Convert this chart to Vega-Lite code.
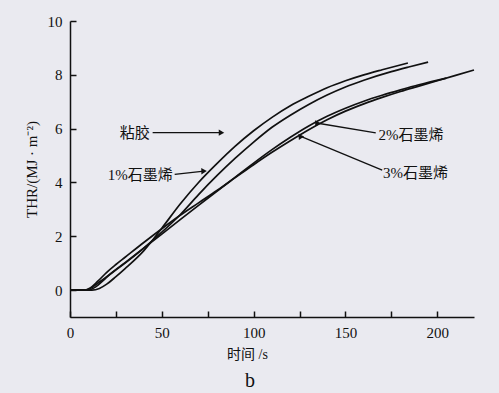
{
  "$schema": "https://vega.github.io/schema/vega-lite/v6.json",
  "width": 404,
  "height": 296,
  "autosize": "none",
  "padding": {"left": 70, "top": 21, "right": 25, "bottom": 76},
  "background": "#eaeaf0",
  "config": {"view": {"stroke": null}, "font": "Liberation Serif", "axis": {"ticks": true}},
  "title": {"text": "b", "orient": "bottom", "font": "Liberation Serif", "fontSize": 20, "fontWeight": "normal", "dx": -22, "offset": 10, "color": "#111"},
  "datasets": {
    "curves": [
      {"s": "粘胶", "t": 0, "v": 0}, {"s": "粘胶", "t": 12, "v": 0}, {"s": "粘胶", "t": 16, "v": 0.06}, {"s": "粘胶", "t": 20, "v": 0.22}, {"s": "粘胶", "t": 25, "v": 0.5}, {"s": "粘胶", "t": 30, "v": 0.8}, {"s": "粘胶", "t": 40, "v": 1.45}, {"s": "粘胶", "t": 50, "v": 2.3}, {"s": "粘胶", "t": 60, "v": 3.2}, {"s": "粘胶", "t": 70, "v": 4.0}, {"s": "粘胶", "t": 80, "v": 4.7}, {"s": "粘胶", "t": 90, "v": 5.35}, {"s": "粘胶", "t": 100, "v": 5.92}, {"s": "粘胶", "t": 110, "v": 6.42}, {"s": "粘胶", "t": 120, "v": 6.85}, {"s": "粘胶", "t": 130, "v": 7.2}, {"s": "粘胶", "t": 140, "v": 7.52}, {"s": "粘胶", "t": 150, "v": 7.78}, {"s": "粘胶", "t": 160, "v": 8.0}, {"s": "粘胶", "t": 170, "v": 8.19}, {"s": "粘胶", "t": 184, "v": 8.44},
      {"s": "1%", "t": 0, "v": 0}, {"s": "1%", "t": 8, "v": 0}, {"s": "1%", "t": 12, "v": 0.1}, {"s": "1%", "t": 16, "v": 0.3}, {"s": "1%", "t": 20, "v": 0.5}, {"s": "1%", "t": 30, "v": 1.0}, {"s": "1%", "t": 40, "v": 1.55}, {"s": "1%", "t": 50, "v": 2.15}, {"s": "1%", "t": 60, "v": 2.8}, {"s": "1%", "t": 70, "v": 3.55}, {"s": "1%", "t": 80, "v": 4.25}, {"s": "1%", "t": 90, "v": 4.9}, {"s": "1%", "t": 100, "v": 5.5}, {"s": "1%", "t": 110, "v": 6.05}, {"s": "1%", "t": 120, "v": 6.5}, {"s": "1%", "t": 130, "v": 6.9}, {"s": "1%", "t": 140, "v": 7.25}, {"s": "1%", "t": 150, "v": 7.55}, {"s": "1%", "t": 160, "v": 7.8}, {"s": "1%", "t": 175, "v": 8.12}, {"s": "1%", "t": 185, "v": 8.3}, {"s": "1%", "t": 195, "v": 8.47},
      {"s": "3%", "t": 0, "v": 0}, {"s": "3%", "t": 8, "v": 0}, {"s": "3%", "t": 11, "v": 0.08}, {"s": "3%", "t": 15, "v": 0.32}, {"s": "3%", "t": 20, "v": 0.66}, {"s": "3%", "t": 25, "v": 0.95}, {"s": "3%", "t": 30, "v": 1.22}, {"s": "3%", "t": 40, "v": 1.76}, {"s": "3%", "t": 50, "v": 2.28}, {"s": "3%", "t": 60, "v": 2.78}, {"s": "3%", "t": 70, "v": 3.24}, {"s": "3%", "t": 80, "v": 3.7}, {"s": "3%", "t": 90, "v": 4.18}, {"s": "3%", "t": 100, "v": 4.66}, {"s": "3%", "t": 110, "v": 5.12}, {"s": "3%", "t": 120, "v": 5.55}, {"s": "3%", "t": 130, "v": 5.96}, {"s": "3%", "t": 140, "v": 6.33}, {"s": "3%", "t": 150, "v": 6.65}, {"s": "3%", "t": 160, "v": 6.92}, {"s": "3%", "t": 170, "v": 7.16}, {"s": "3%", "t": 180, "v": 7.38}, {"s": "3%", "t": 190, "v": 7.58}, {"s": "3%", "t": 200, "v": 7.78}, {"s": "3%", "t": 210, "v": 7.98}, {"s": "3%", "t": 220, "v": 8.18},
      {"s": "2%", "t": 0, "v": 0}, {"s": "2%", "t": 10, "v": 0}, {"s": "2%", "t": 14, "v": 0.12}, {"s": "2%", "t": 18, "v": 0.35}, {"s": "2%", "t": 22, "v": 0.6}, {"s": "2%", "t": 30, "v": 1.02}, {"s": "2%", "t": 40, "v": 1.55}, {"s": "2%", "t": 50, "v": 2.08}, {"s": "2%", "t": 60, "v": 2.62}, {"s": "2%", "t": 70, "v": 3.15}, {"s": "2%", "t": 80, "v": 3.67}, {"s": "2%", "t": 90, "v": 4.2}, {"s": "2%", "t": 100, "v": 4.72}, {"s": "2%", "t": 110, "v": 5.22}, {"s": "2%", "t": 120, "v": 5.68}, {"s": "2%", "t": 130, "v": 6.1}, {"s": "2%", "t": 140, "v": 6.46}, {"s": "2%", "t": 150, "v": 6.76}, {"s": "2%", "t": 160, "v": 7.02}, {"s": "2%", "t": 170, "v": 7.24}, {"s": "2%", "t": 180, "v": 7.44}, {"s": "2%", "t": 190, "v": 7.63}, {"s": "2%", "t": 205, "v": 7.88}
    ],
    "arrows": [
      {"label": "粘胶", "x": 45, "y": 5.85, "x2": 82.5, "y2": 5.85},
      {"label": "1%石墨烯", "x": 57, "y": 4.3, "x2": 73, "y2": 4.42},
      {"label": "2%石墨烯", "x": 166.5, "y": 5.84, "x2": 135, "y2": 6.2},
      {"label": "3%石墨烯", "x": 170, "y": 4.46, "x2": 126, "y2": 5.7}
    ],
    "notes": [
      {"label": "粘胶", "x": 43.5, "y": 5.85},
      {"label": "1%石墨烯", "x": 56, "y": 4.27},
      {"label": "2%石墨烯", "x": 168, "y": 5.76},
      {"label": "3%石墨烯", "x": 170.5, "y": 4.36}
    ]
  },
  "layer": [
    {
      "data": {"name": "curves"},
      "mark": {"type": "line", "interpolate": "monotone", "color": "#111", "strokeWidth": 1.7},
      "encoding": {
        "x": {
          "field": "t", "type": "quantitative",
          "scale": {"domain": [0, 220], "nice": false, "zero": false},
          "axis": {
            "values": [0, 25, 50, 75, 100, 125, 150, 175, 200],
            "labelExpr": "datum.value % 50 === 0 ? datum.label : ''",
            "ticks": true,
            "tickSize": -6,
            "labelPadding": 14,
            "grid": false,
            "domainColor": "#111", "tickColor": "#111", "labelColor": "#111", "titleColor": "#111",
            "domainWidth": 1.5, "tickWidth": 1.5, "tickOpacity": 1,
            "labelFont": "Liberation Serif", "labelFontSize": 15, "labelFlush": false,
            "title": "时间 /s", "titleFont": "Liberation Serif, Noto Sans CJK SC", "titleFontSize": 14, "titleFontWeight": "normal",
            "titleX": 177, "titlePadding": 7
          }
        },
        "y": {
          "field": "v", "type": "quantitative",
          "scale": {"domain": [-1, 10], "nice": false, "zero": false},
          "axis": {
            "values": [0, 1, 2, 3, 4, 5, 6, 7, 8, 9, 10],
            "labelExpr": "datum.value % 2 === 0 ? datum.label : ''",
            "ticks": true,
            "tickSize": -6,
            "labelPadding": 14,
            "grid": false,
            "domainColor": "#111", "tickColor": "#111", "labelColor": "#111", "titleColor": "#111",
            "domainWidth": 1.5, "tickWidth": 1.5, "tickOpacity": 1,
            "labelFont": "Liberation Serif", "labelFontSize": 15, "labelFlush": false,
            "title": "THR/(MJ · m⁻²)", "titleFont": "Liberation Serif", "titleFontSize": 15, "titleFontWeight": "normal",
            "titlePadding": 8
          }
        },
        "detail": {"field": "s"}
      }
    },
    {
      "data": {"name": "arrows"},
      "mark": {"type": "rule", "color": "#111", "strokeWidth": 1.3},
      "encoding": {
        "x": {"field": "x", "type": "quantitative"},
        "y": {"field": "y", "type": "quantitative"},
        "x2": {"field": "x2"},
        "y2": {"field": "y2"}
      }
    },
    {
      "data": {"name": "arrows"},
      "mark": {"type": "point", "shape": "triangle-right", "filled": true, "color": "#111", "size": 40, "opacity": 1},
      "encoding": {
        "x": {"field": "x2", "type": "quantitative"},
        "y": {"field": "y2", "type": "quantitative"},
        "angle": {"field": "label", "type": "nominal", "scale": {"domain": ["粘胶", "1%石墨烯", "2%石墨烯", "3%石墨烯"], "range": [0, -4, 190, 202]}, "legend": null}
      }
    },
    {
      "data": {"name": "notes"},
      "transform": [{"filter": {"field": "label", "oneOf": ["粘胶", "1%石墨烯"]}}],
      "mark": {"type": "text", "align": "right", "baseline": "middle", "font": "Liberation Serif, Noto Sans CJK SC", "fontSize": 15, "color": "#111"},
      "encoding": {
        "x": {"field": "x", "type": "quantitative"},
        "y": {"field": "y", "type": "quantitative"},
        "text": {"field": "label"}
      }
    },
    {
      "data": {"name": "notes"},
      "transform": [{"filter": {"field": "label", "oneOf": ["2%石墨烯", "3%石墨烯"]}}],
      "mark": {"type": "text", "align": "left", "baseline": "middle", "font": "Liberation Serif, Noto Sans CJK SC", "fontSize": 15, "color": "#111"},
      "encoding": {
        "x": {"field": "x", "type": "quantitative"},
        "y": {"field": "y", "type": "quantitative"},
        "text": {"field": "label"}
      }
    }
  ]
}
